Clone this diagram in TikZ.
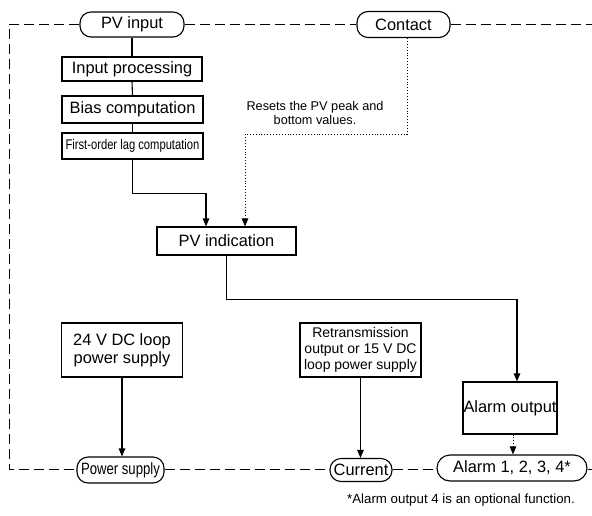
\documentclass[tikz,border=0pt]{standalone}
\usepackage{fontspec}
\setmainfont{Liberation Sans}
\usetikzlibrary{arrows.meta}

\begin{document}
\begin{tikzpicture}[x=1pt, y=-1pt,
				box/.style = {draw, line width=1.1pt, inner sep=0pt, align=center,
						font=\fontsize{16.4}{18}\selectfont},
				term/.style = {box, rounded corners=11pt},
				arr/.style = {line width=1.1pt, -{Triangle[length=8pt, width=6.5pt]}},
				frame/.style = {line width=0.9pt, dash pattern=on 10pt off 5pt},
			]
			\path[use as bounding box] (0,0) rectangle (592,515);
			% signal terminals on the frame
			\node[term, minimum width=104pt, minimum height=25pt] (pvin) at (132,24.5) {PV input};
			\node[term, minimum width=93pt, minimum height=26pt] (contact) at (403.5,24.5) {Contact};
			\node[term, minimum width=87pt, minimum height=26pt] (psup) at (120.5,470) {\scalebox{0.8}[1]{Power supply}};
			\node[term, minimum width=62pt, minimum height=23pt] (current) at (361,470) {Current};
			\node[term, minimum width=150pt, minimum height=26pt, rounded corners=13pt] (alarm) at (512,468) {Alarm 1, 2, 3, 4*};
			% processing blocks
			\node[box, minimum width=140pt, minimum height=24pt] (inproc) at (132,69) {Input processing};
			\node[box, minimum width=141pt, minimum height=27pt] (bias) at (132.5,109.5) {Bias computation};
			\node[box, minimum width=141pt, minimum height=26pt, font=\fontsize{14}{16}\selectfont] (lag) at (132.5,146) {\scalebox{0.8}[1]{First-order lag computation}};
			\node[box, minimum width=139pt, minimum height=28pt] (pvind) at (226.5,241) {PV indication};
			\node[box, minimum width=121pt, minimum height=54pt] (dcloop) at (122,350) {24 V DC loop\\power supply};
			\node[box, minimum width=121pt, minimum height=54pt, font=\fontsize{14}{16}\selectfont] (retrans) at (360.5,350) {Retransmission\\output or 15 V DC\\loop power supply};
			\node[box, minimum width=94pt, minimum height=52pt] (almout) at (510,408) {Alarm output};
			% notes
			\node[align=center, font=\fontsize{12.7}{14.5}\selectfont] (resets) at (315,113) {Resets the PV peak and\\bottom values.};
			\node[font=\fontsize{13.3}{15}\selectfont] (footnote) at (461,500) {*Alarm output 4 is an optional function.};
			% frame
			\coordinate (tl) at (9,24.5);
			\coordinate (tr) at (592,24.5);
			\coordinate (bl) at (9,469.5);
			\coordinate (br) at (592,469.5);
			\draw[frame] (pvin.west) -- (tl) -- (bl) -- (bl -| psup.west);
			\draw[frame] (pvin.east) -- (contact.west);
			\draw[frame] (contact.east) -- (tr);
			\draw[frame] (bl -| psup.east) -- (bl -| current.west);
			\draw[frame] (bl -| current.east) -- (bl -| alarm.west);
			\draw[frame] (bl -| alarm.east) -- (br);
			% signal flow
			\draw[line width=1.1pt] (pvin.south) -- (inproc.north);
			\draw[line width=1.1pt] (inproc.south) -- (bias.north);
			\draw[line width=1.1pt] (bias.south) -- (lag.north);
			\draw[arr] (lag.south) -- ++(0,34) -| ([xshift=-20.5pt]pvind.north);
			\draw[arr, line width=0.9pt, dotted] ([xshift=3.5pt]contact.south) -- ++(0,96) -| ([xshift=18.5pt]pvind.north);
			\draw[arr] (pvind.south) -- ++(0,44) -| ([xshift=7pt]almout.north);
			\draw[arr] (dcloop.south) -- (dcloop.south |- psup.north);
			\draw[arr] (retrans.south) -- (retrans.south |- current.north);
			\draw[arr, line width=0.9pt, dotted] ([xshift=3pt]almout.south) -- ([xshift=3pt]almout.south |- alarm.north);
		\end{tikzpicture}
\end{document}
